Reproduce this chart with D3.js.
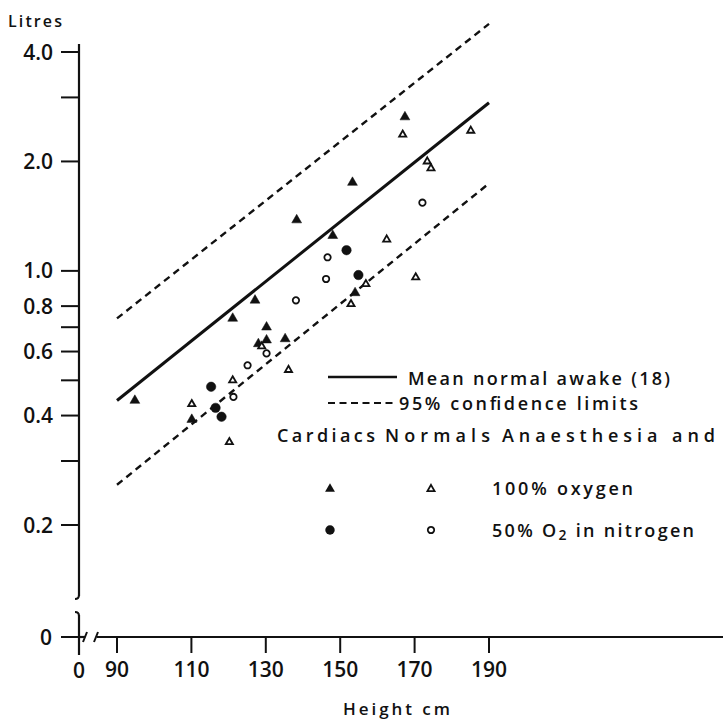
<!DOCTYPE html>
<html>
<head>
<meta charset="utf-8">
<script src="https://d3js.org/d3.v7.min.js"></script>
<style>
  body { margin: 0; background: #fff; }
  text { font-family: "Open Sans", "DejaVu Sans", sans-serif; font-weight: 600; fill: #111; }
</style>
</head>
<body>
<svg id="vis"></svg>

<script>
  // Data: [height cm, litres]
  var cardiacsOxygen = [[94.8, 0.44], [110.1, 0.39], [121.1, 0.74], [127.1, 0.83], [128.0, 0.63],
                        [130.2, 0.70], [130.2, 0.645], [135.2, 0.65], [138.3, 1.38], [148.0, 1.25],
                        [153.3, 1.75], [154.0, 0.87], [167.4, 2.65]];
  var normalsOxygen = [[110.1, 0.43], [120.2, 0.338], [121.1, 0.50], [128.9, 0.62], [136.1, 0.534],
                       [152.9, 0.81], [156.9, 0.92], [162.5, 1.22], [170.3, 0.96], [166.8, 2.37],
                       [173.4, 2.0], [174.4, 1.915], [185.1, 2.43]];
  var cardiacsNitrogen = [[115.3, 0.48], [116.5, 0.42], [118.1, 0.397], [151.7, 1.14], [154.9, 0.974]];
  var normalsNitrogen = [[121.3, 0.45], [125.1, 0.55], [130.2, 0.593], [138.1, 0.83], [146.2, 0.95],
                         [146.6, 1.09], [172.1, 1.54]];

  var meanLine = [[90, 0.44], [190, 2.90]];
  var upperLimit = [[90, 0.74], [190, 4.78]];
  var lowerLimit = [[90, 0.258], [190, 1.74]];

  var yTicks = [4, 3, 2, 1, 0.8, 0.7, 0.6, 0.5, 0.4, 0.3, 0.2];
  var yLabelled = [4, 2, 1, 0.8, 0.6, 0.4, 0.2];
  var xTicks = [90, 110, 130, 150, 170, 190];

  var svg = d3.select("#vis")
      .attr('width', 723)
      .attr('height', 722);

  var xScale = d3.scaleLinear()
      .domain([90, 190])
      .range([117, 489]);

  var yScale = d3.scaleLog()
      .domain([0.2, 4])
      .range([525, 52]);

  var axisX = 79;   // x position of the height axis origin (0)
  var zeroY = 637;  // y position of litres = 0

  // helper: text stretched to the width it has in the figure
  function label(sel, x, y, size, width, str) {
    return sel.append('text')
        .attr('x', x).attr('y', y)
        .attr('font-size', size)
        .attr('textLength', width)
        .attr('lengthAdjust', 'spacing')
        .text(str);
  }

  // Y axis (upper part, log scale)
  svg.append('line')
      .attr('x1', axisX).attr('y1', 44)
      .attr('x2', axisX).attr('y2', 596)
      .attr('stroke', '#111').attr('stroke-width', 2.2);
  // break hooks
  svg.append('path')
      .attr('d', 'M' + axisX + ',595 q0,4 -4,4')
      .attr('fill', 'none').attr('stroke', '#111').attr('stroke-width', 2);
  svg.append('path')
      .attr('d', 'M' + (axisX - 4) + ',612 q4,0 4,4')
      .attr('fill', 'none').attr('stroke', '#111').attr('stroke-width', 2);
  svg.append('line')
      .attr('x1', axisX).attr('y1', 615)
      .attr('x2', axisX).attr('y2', 655)
      .attr('stroke', '#111').attr('stroke-width', 2.2);

  // Y ticks
  svg.selectAll('.ytick')
      .data(yTicks)
      .enter().append('line')
      .attr('class', 'ytick')
      .attr('x1', 61).attr('x2', axisX)
      .attr('y1', function(d) { return yScale(d); })
      .attr('y2', function(d) { return yScale(d); })
      .attr('stroke', '#111').attr('stroke-width', 2);

  svg.selectAll('.ylabel')
      .data(yLabelled)
      .enter().append('text')
      .attr('class', 'ylabel')
      .attr('x', 53)
      .attr('y', function(d) { return yScale(d) + 7.5; })
      .attr('text-anchor', 'end')
      .attr('font-size', 21)
      .text(function(d) { return d3.format('.1f')(d); });

  // zero tick on y
  svg.append('line')
      .attr('x1', 61).attr('x2', axisX)
      .attr('y1', zeroY).attr('y2', zeroY)
      .attr('stroke', '#111').attr('stroke-width', 2);
  svg.append('text')
      .attr('x', 52).attr('y', zeroY + 7.5)
      .attr('text-anchor', 'end')
      .attr('font-size', 21)
      .text('0');

  label(svg, 8, 27, 16, 54, 'Litres');

  // X axis with break
  svg.append('line')
      .attr('x1', axisX).attr('y1', zeroY)
      .attr('x2', 85).attr('y2', zeroY)
      .attr('stroke', '#111').attr('stroke-width', 2.2);
  svg.append('path')
      .attr('d', 'M83,642 L87,632 M94,642 L98,632')
      .attr('fill', 'none').attr('stroke', '#111').attr('stroke-width', 2);
  svg.append('line')
      .attr('x1', 97).attr('y1', zeroY)
      .attr('x2', 723).attr('y2', zeroY)
      .attr('stroke', '#111').attr('stroke-width', 2.2);

  svg.selectAll('.xtick')
      .data(xTicks)
      .enter().append('line')
      .attr('class', 'xtick')
      .attr('x1', function(d) { return xScale(d); })
      .attr('x2', function(d) { return xScale(d); })
      .attr('y1', zeroY).attr('y2', zeroY + 16)
      .attr('stroke', '#111').attr('stroke-width', 2);

  svg.selectAll('.xlabel')
      .data(xTicks)
      .enter().append('text')
      .attr('class', 'xlabel')
      .attr('x', function(d) { return xScale(d); })
      .attr('y', 677)
      .attr('text-anchor', 'middle')
      .attr('font-size', 21)
      .text(function(d) { return d; });

  svg.append('text')
      .attr('x', axisX).attr('y', 678)
      .attr('text-anchor', 'middle')
      .attr('font-size', 21)
      .text('0');

  label(svg, 343, 715, 17, 107, 'Height cm');

  // Regression lines
  var line = d3.line()
      .x(function(d) { return xScale(d[0]); })
      .y(function(d) { return yScale(d[1]); });

  svg.append('path')
      .datum(meanLine)
      .attr('d', line)
      .attr('fill', 'none').attr('stroke', '#111').attr('stroke-width', 3);

  svg.selectAll('.limit')
      .data([upperLimit, lowerLimit])
      .enter().append('path')
      .attr('class', 'limit')
      .attr('d', line)
      .attr('fill', 'none').attr('stroke', '#111').attr('stroke-width', 2.4)
      .attr('stroke-dasharray', '7,5');

  // Points
  var filledTri = d3.symbol().type(d3.symbolTriangle).size(42);
  var openTri = d3.symbol().type(d3.symbolTriangle).size(22);
  var filledDot = d3.symbol().type(d3.symbolCircle).size(70);
  var openDot = d3.symbol().type(d3.symbolCircle).size(32);

  function addPoints(data, sym, filled, cls) {
    svg.selectAll('.' + cls)
        .data(data)
        .enter().append('path')
        .attr('class', cls)
        .attr('d', sym)
        .attr('transform', function(d) {
          return 'translate(' + xScale(d[0]) + ',' + yScale(d[1]) + ')';
        })
        .attr('fill', filled ? '#111' : '#fff')
        .attr('stroke', '#111')
        .attr('stroke-width', filled ? 0.5 : 1.8);
  }

  addPoints(cardiacsOxygen, filledTri, true, 'co');
  addPoints(normalsOxygen, openTri, false, 'no');
  addPoints(cardiacsNitrogen, filledDot, true, 'cn');
  addPoints(normalsNitrogen, openDot, false, 'nn');

  // Legend
  var legend = svg.append('g');
  legend.append('line')
      .attr('x1', 328).attr('x2', 397).attr('y1', 377).attr('y2', 377)
      .attr('stroke', '#111').attr('stroke-width', 2.4);
  label(legend, 408, 385, 18, 262, 'Mean normal awake (18)');
  legend.append('line')
      .attr('x1', 328).attr('x2', 397).attr('y1', 403).attr('y2', 403)
      .attr('stroke', '#111').attr('stroke-width', 2)
      .attr('stroke-dasharray', '7,4.5');
  label(legend, 399, 410, 18, 239, '95% confidence limits');
  label(legend, 277, 442, 18, 98, 'Cardiacs');
  label(legend, 385, 442, 18, 105, 'Normals');
  label(legend, 502, 442, 18, 213, 'Anaesthesia and');

  legend.append('path').attr('d', filledTri)
      .attr('transform', 'translate(330,489)').attr('fill', '#111');
  legend.append('path').attr('d', openTri)
      .attr('transform', 'translate(431,489)').attr('fill', '#fff')
      .attr('stroke', '#111').attr('stroke-width', 1.8);
  label(legend, 492, 495, 18, 141, '100% oxygen');

  legend.append('path').attr('d', filledDot)
      .attr('transform', 'translate(330,530)').attr('fill', '#111');
  legend.append('path').attr('d', openDot)
      .attr('transform', 'translate(431,530)').attr('fill', '#fff')
      .attr('stroke', '#111').attr('stroke-width', 1.8);
  var o2 = legend.append('text')
      .attr('x', 492).attr('y', 537)
      .attr('font-size', 18).attr('letter-spacing', 2.3);
  o2.append('tspan').text('50% O');
  o2.append('tspan').attr('font-size', 14).attr('dy', 3).text('2');
  o2.append('tspan').attr('dy', -3).text(' in nitrogen');
</script>
</body>
</html>
